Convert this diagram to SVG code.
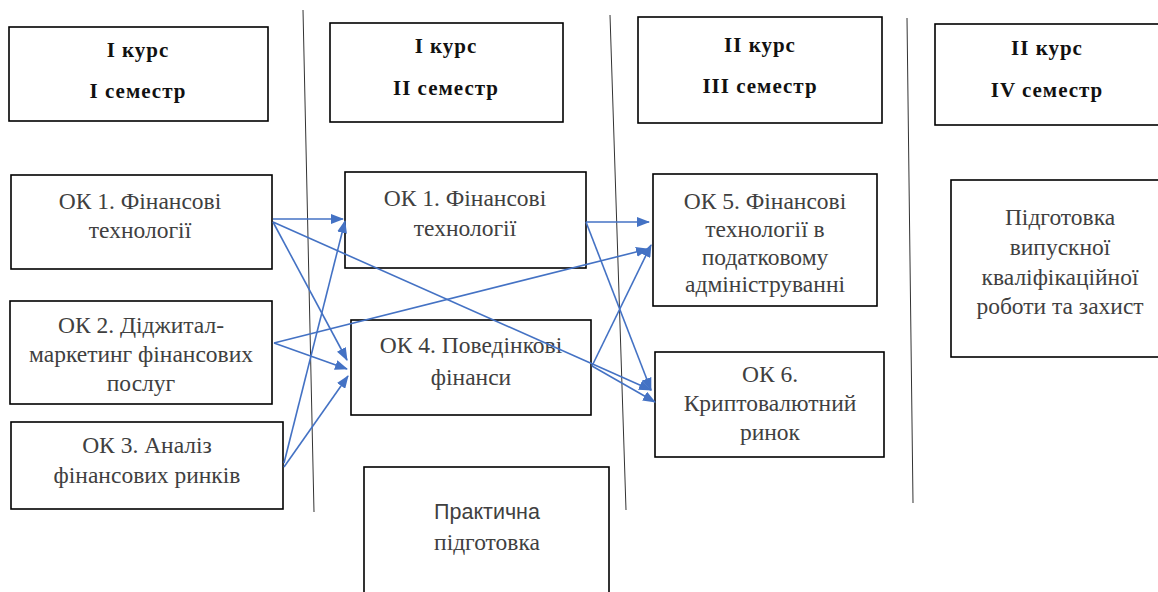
<svg xmlns="http://www.w3.org/2000/svg" width="1158" height="592" viewBox="0 0 1158 592">
<style>
.box{fill:#fff;stroke:#000;stroke-width:1.6}
.hd{font-family:'Liberation Serif',serif;font-weight:bold;font-size:21px;letter-spacing:1px;fill:#111;text-anchor:middle}
.t{font-family:'Liberation Serif',serif;font-size:23.5px;fill:#404040;text-anchor:middle}
.ts{font-family:'Liberation Sans',sans-serif;font-size:21.5px;fill:#404040;text-anchor:middle}
.div{stroke:#333;stroke-width:1;fill:none}
.c{stroke:#4472C4;stroke-width:1.6;fill:none;marker-end:url(#ah)}
</style>
<defs>
<marker id="ah" markerUnits="userSpaceOnUse" markerWidth="13" markerHeight="10" refX="12" refY="5" orient="auto">
<path d="M0,0 L13,5 L0,10 z" fill="#4472C4"/>
</marker>
</defs>
<rect width="1158" height="592" fill="#fff"/>
<g id="dividers">
<line class="div" x1="303" y1="10" x2="314" y2="512"/>
<line class="div" x1="610" y1="15" x2="626" y2="510"/>
<line class="div" x1="907" y1="18" x2="913" y2="503"/>
</g>
<g id="h1"><rect class="box" x="9" y="27" width="259" height="94"/><text class="hd" x="138" y="57">I курс</text><text class="hd" x="138" y="98">I семестр</text></g>
<g id="h2"><rect class="box" x="330" y="23" width="233" height="99"/><text class="hd" x="446" y="53">I курс</text><text class="hd" x="446" y="95">II семестр</text></g>
<g id="h3"><rect class="box" x="638" y="17" width="244" height="106"/><text class="hd" x="760" y="52">II курс</text><text class="hd" x="760" y="93">III семестр</text></g>
<g id="h4"><rect class="box" x="935" y="24" width="230" height="101"/><text class="hd" x="1047" y="55">II курс</text><text class="hd" x="1047" y="97">IV семестр</text></g>
<g id="ok1a"><rect class="box" x="11" y="175" width="261" height="94"/><text class="t" x="140" y="209">ОК 1. Фінансові</text><text class="t" x="140" y="238">технології</text></g>
<g id="ok2"><rect class="box" x="10" y="301" width="262" height="103"/><text class="t" x="141" y="333">ОК 2. Діджитал-</text><text class="t" x="141" y="362">маркетинг фінансових</text><text class="t" x="141" y="391">послуг</text></g>
<g id="ok3"><rect class="box" x="11" y="422" width="272" height="87"/><text class="t" x="147" y="453">ОК 3. Аналіз</text><text class="t" x="147" y="483">фінансових ринків</text></g>
<g id="ok1b"><rect class="box" x="345" y="172" width="241" height="96"/><text class="t" x="465" y="206">ОК 1. Фінансові</text><text class="t" x="465" y="236">технології</text></g>
<g id="ok4"><rect class="box" x="351" y="320" width="240" height="95"/><text class="t" x="471" y="353">ОК 4. Поведінкові</text><text class="t" x="471" y="385">фінанси</text></g>
<g id="prac"><rect class="box" x="364" y="467" width="245" height="130"/><text class="ts" x="487" y="519">Практична</text><text class="t" x="487" y="550">підготовка</text></g>
<g id="ok5"><rect class="box" x="653" y="174" width="224" height="132"/><text class="t" x="765" y="209">ОК 5. Фінансові</text><text class="t" x="765" y="237">технології в</text><text class="t" x="765" y="265">податковому</text><text class="t" x="765" y="292">адмініструванні</text></g>
<g id="ok6"><rect class="box" x="655" y="352" width="229" height="105"/><text class="t" x="770" y="382">ОК 6.</text><text class="t" x="770" y="411">Криптовалютний</text><text class="t" x="770" y="440">ринок</text></g>
<g id="thesis"><rect class="box" x="951" y="180" width="215" height="177"/><text class="t" x="1060" y="225">Підготовка</text><text class="t" x="1060" y="255">випускної</text><text class="t" x="1060" y="285">кваліфікаційної</text><text class="t" x="1060" y="314">роботи та захист</text></g>
<g id="connectors">
<line class="c" x1="273" y1="219" x2="343" y2="219"/>
<line class="c" x1="273" y1="222" x2="347" y2="360"/>
<line class="c" x1="273" y1="222" x2="651" y2="390"/>
<line class="c" x1="274" y1="343" x2="648" y2="249"/>
<line class="c" x1="274" y1="343" x2="347" y2="369"/>
<line class="c" x1="284" y1="463" x2="345" y2="221"/>
<line class="c" x1="284" y1="467" x2="348" y2="376"/>
<line class="c" x1="586" y1="222" x2="649" y2="222"/>
<line class="c" x1="586" y1="222" x2="651" y2="390"/>
<line class="c" x1="592" y1="366" x2="651" y2="245"/>
<line class="c" x1="592" y1="366" x2="655" y2="402"/>
</g>
</svg>
